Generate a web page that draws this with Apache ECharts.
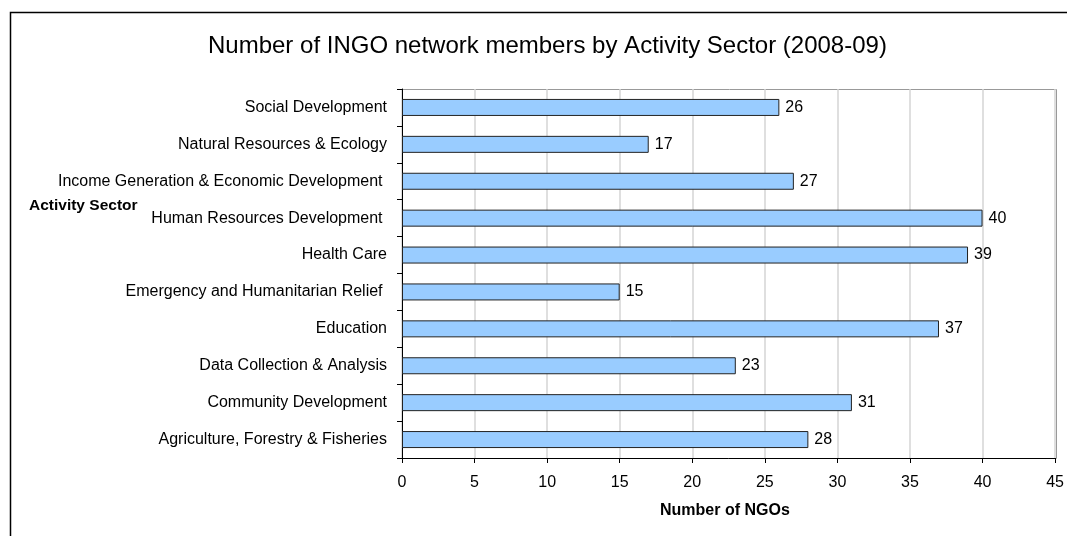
<!DOCTYPE html>
<html>
<head>
<meta charset="utf-8">
<script src="https://cdn.jsdelivr.net/npm/echarts@6/dist/echarts.min.js"></script>
<style>
html,body{margin:0;padding:0;background:#fff;}
#chart{width:1067px;height:536px;}
</style>
</head>
<body>
<div id="chart"></div>
<script>
var categories = [
  "Agriculture, Forestry & Fisheries",
  "Community Development",
  "Data Collection & Analysis",
  "Education",
  "Emergency and Humanitarian Relief ",
  "Health Care",
  "Human Resources Development ",
  "Income Generation & Economic Development ",
  "Natural Resources & Ecology",
  "Social Development"
];
var values = [28, 31, 23, 37, 15, 39, 40, 27, 17, 26];
var xTicks = [0, 5, 10, 15, 20, 25, 30, 35, 40, 45];

var chart = echarts.init(document.getElementById('chart'));
var font = '"Liberation Sans", Arial, sans-serif';
chart.setOption({
  animation: false,
  textStyle: {fontFamily: font},
  graphic: [
    {type: 'rect', z: -10, shape: {x: 10.5, y: 12.5, width: 1100, height: 600},
     style: {fill: '#fff', stroke: '#000', lineWidth: 1.5}},
    {type: 'rect', z: 0, shape: {x: 402.5, y: 89.5, width: 654, height: 369},
     style: {fill: 'none', stroke: '#999', lineWidth: 1}},
    {type: 'text', left: 29, top: 198,
     style: {text: 'Activity Sector', font: 'bold 15.5px ' + font, fill: '#000'}},
    {type: 'text', left: 660, top: 503,
     style: {text: 'Number of NGOs', font: 'bold 16px ' + font, fill: '#000'}},
    {type: 'text', left: 208, top: 34,
     style: {text: 'Number of INGO network members by Activity Sector (2008-09)', font: '24px ' + font, fill: '#000'}}
  ],
  grid: {left: 402, right: 11, top: 89, bottom: 78, containLabel: false},
  xAxis: {
    type: 'value', min: 0, max: 45, interval: 5,
    axisLine: {show: true, lineStyle: {color: '#000', width: 1}},
    axisTick: {show: true, length: 5, lineStyle: {color: '#000'}},
    axisLabel: {color: '#000', fontSize: 16, margin: 17, fontFamily: font,
      formatter: function (v) { return xTicks.indexOf(v) >= 0 ? String(v) : ''; }},
    splitLine: {show: true, lineStyle: {color: '#d4d4d4', width: 1.5}}
  },
  yAxis: {
    type: 'category', data: categories,
    axisLine: {show: true, lineStyle: {color: '#000', width: 1}},
    axisTick: {show: true, length: 5, lineStyle: {color: '#000'}},
    axisLabel: {color: '#000', fontSize: 16, margin: 15, fontFamily: font},
    splitLine: {show: false}
  },
  series: [{
    type: 'bar', data: values, barWidth: 17,
    itemStyle: {color: '#99CCFF', borderColor: '#222', borderWidth: 1},
    label: {show: true, position: 'right', distance: 6, color: '#000', fontSize: 16, fontFamily: font}
  }]
});
</script>
</body>
</html>
